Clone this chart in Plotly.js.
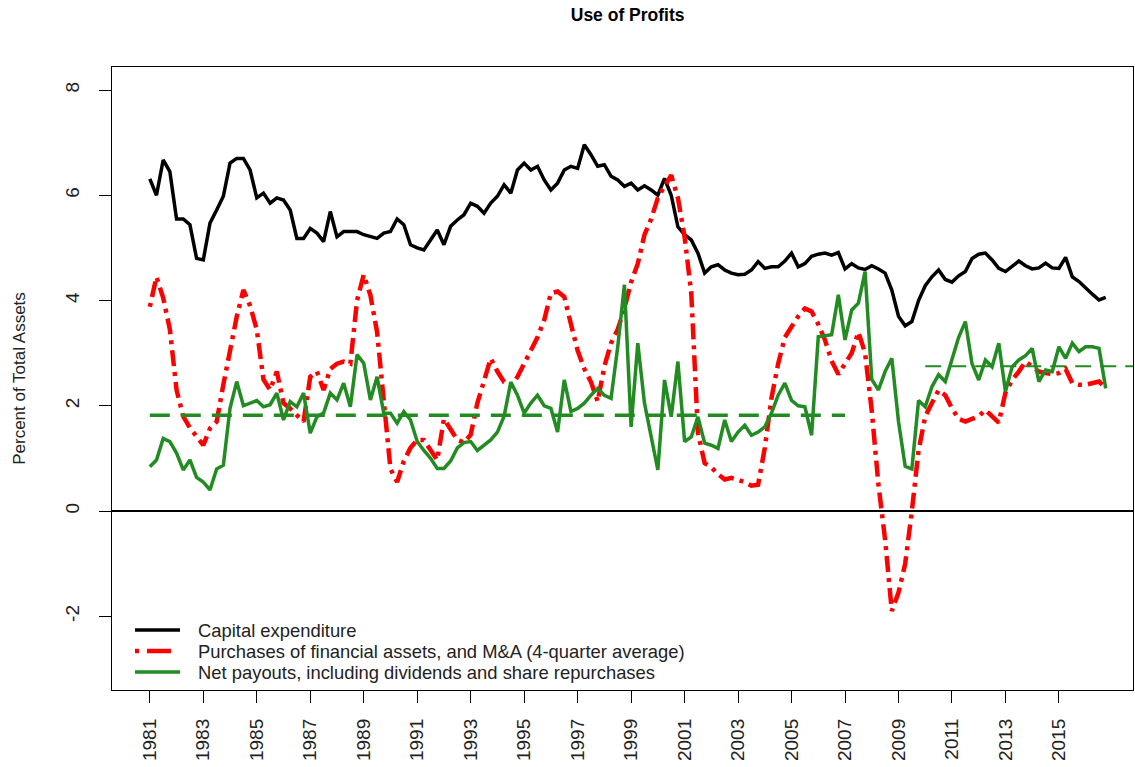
<!DOCTYPE html>
<html>
<head>
<meta charset="utf-8">
<script src="https://cdn.plot.ly/plotly-3.0.1.min.js"></script>
<style>html,body{margin:0;padding:0;background:#fff;}#chart{width:1135px;height:767px;}</style>
</head>
<body>
<div id="chart"></div>
<script>
// Quarterly observations, first quarter = 1981 Q1
const startYear = 1981;

const capitalExpenditure = [
  6.31, 6.00, 6.67, 6.45, 5.55, 5.55, 5.44, 4.80, 4.77, 5.47,
  5.72, 5.98, 6.61, 6.70, 6.70, 6.48, 5.95, 6.04, 5.85, 5.95,
  5.91, 5.72, 5.18, 5.18, 5.37, 5.28, 5.12, 5.69, 5.21, 5.31,
  5.31, 5.31, 5.25, 5.22, 5.18, 5.28, 5.31, 5.55, 5.44, 5.06,
  5.00, 4.96, 5.15, 5.34, 5.06, 5.41, 5.53, 5.63, 5.85, 5.79,
  5.66, 5.85, 5.98, 6.20, 6.04, 6.48, 6.61, 6.48, 6.55, 6.29,
  6.10, 6.23, 6.48, 6.55, 6.51, 6.96, 6.77, 6.55, 6.58, 6.36,
  6.29, 6.17, 6.23, 6.10, 6.18, 6.10, 6.00, 6.32, 6.00, 5.40,
  5.25, 5.15, 4.90, 4.52, 4.64, 4.68, 4.58, 4.52, 4.49, 4.50,
  4.58, 4.74, 4.61, 4.64, 4.64, 4.75, 4.90, 4.64, 4.70, 4.84,
  4.88, 4.90, 4.86, 4.91, 4.60, 4.70, 4.62, 4.59, 4.66, 4.60,
  4.52, 4.20, 3.70, 3.52, 3.60, 4.00, 4.28, 4.45, 4.58, 4.40,
  4.35, 4.47, 4.55, 4.80, 4.88, 4.90, 4.77, 4.61, 4.55, 4.64,
  4.75, 4.66, 4.60, 4.62, 4.71, 4.62, 4.61, 4.82, 4.45, 4.36,
  4.23, 4.12, 4.01, 4.06
];

const financialPurchases = [
  3.88, 4.45, 4.05, 3.45, 2.30, 1.80, 1.58, 1.41, 1.25, 1.57,
  1.70, 2.40, 3.06, 3.69, 4.20, 3.90, 3.45, 2.50, 2.30, 2.65,
  2.05, 1.95, 1.82, 1.70, 2.55, 2.65, 2.30, 2.70, 2.80, 2.84,
  2.80, 4.00, 4.49, 4.10, 3.40, 2.20, 0.80, 0.55, 0.95, 1.20,
  1.35, 1.35, 1.15, 0.97, 1.75, 1.55, 1.35, 1.30, 1.45, 2.05,
  2.45, 2.90, 2.65, 2.45, 2.38, 2.55, 2.80, 3.05, 3.30, 3.63,
  4.14, 4.17, 4.07, 3.55, 3.05, 2.70, 2.45, 2.08, 2.75, 3.19,
  3.45, 3.85, 4.35, 4.70, 5.25, 5.55, 5.95, 6.17, 6.38, 5.95,
  5.21, 4.14, 1.48, 0.91, 0.83, 0.70, 0.60, 0.63, 0.60, 0.55,
  0.48, 0.50, 1.20, 2.15, 2.80, 3.30, 3.50, 3.70, 3.85, 3.79,
  3.55, 3.25, 2.85, 2.60, 2.80, 3.00, 3.40, 3.00, 1.90, 0.50,
  -0.55, -1.90, -1.55, -1.00, 0.00, 1.15, 1.80, 2.05, 2.30, 2.20,
  1.95, 1.75, 1.70, 1.75, 1.80, 1.92, 1.80, 1.68, 2.25, 2.49,
  2.65, 2.84, 2.74, 2.65, 2.62, 2.60, 2.62, 2.70, 2.43, 2.40,
  2.40, 2.42, 2.46, 2.33
];

const netPayouts = [
  0.84, 0.97, 1.38, 1.32, 1.10, 0.78, 0.97, 0.64, 0.55, 0.40,
  0.80, 0.87, 1.95, 2.46, 2.00, 2.05, 2.10, 1.98, 2.02, 2.24,
  1.73, 2.08, 1.98, 2.24, 1.48, 1.79, 1.86, 2.24, 2.11, 2.43,
  1.98, 2.97, 2.81, 2.11, 2.55, 1.86, 1.86, 1.67, 1.89, 1.73,
  1.32, 1.15, 1.00, 0.81, 0.81, 0.95, 1.20, 1.30, 1.32, 1.15,
  1.25, 1.35, 1.50, 1.80, 2.45, 2.20, 1.86, 2.05, 2.20, 2.00,
  1.95, 1.50, 2.49, 1.89, 1.95, 2.05, 2.20, 2.33, 2.20, 2.14,
  3.12, 4.30, 1.60, 3.19, 2.05, 1.40, 0.78, 2.49, 1.79, 2.84,
  1.32, 1.41, 1.79, 1.29, 1.25, 1.19, 1.73, 1.32, 1.50, 1.63,
  1.44, 1.50, 1.60, 1.86, 2.20, 2.43, 2.10, 2.00, 1.98, 1.44,
  3.31, 3.33, 3.35, 4.11, 3.25, 3.82, 3.95, 4.55, 2.50, 2.30,
  2.65, 2.90, 1.70, 0.85, 0.80, 2.10, 1.98, 2.36, 2.59, 2.46,
  2.90, 3.30, 3.60, 2.80, 2.49, 2.87, 2.74, 3.19, 2.27, 2.74,
  2.87, 2.95, 3.09, 2.46, 2.68, 2.65, 3.12, 2.90, 3.19, 3.03,
  3.12, 3.12, 3.09, 2.33
];

// Average net payouts over two periods (dashed reference lines)
const meanLevels = [1.82, 2.75];
const meanFrom   = [1981, 2010];
const meanTo     = [2007, 2018];

const tickYears  = [1981,1983,1985,1987,1989,1991,1993,1995,1997,1999,2001,2003,2005,2007,2009,2011,2013,2015];
const tickLabels = tickYears.map(String);
const yTicks     = [-2, 0, 2, 4, 6, 8];

const seriesNames = [
  'Capital expenditure',
  'Purchases of financial assets, and M&amp;A (4-quarter average)',
  'Net payouts, including dividends and share repurchases'
];
const seriesColors = ['#000000', '#ff0000', '#228b22'];
const seriesDash   = ['solid', '4px,6px,16px,6px', 'solid'];
const seriesWidth  = [3.5, 4.5, 3.5];
const legendDash   = ['solid', '4px,8px,24px,40px', 'solid'];

const dates = capitalExpenditure.map((_, i) => startYear + i / 4);
const seriesValues = [capitalExpenditure, financialPurchases, netPayouts];

const traces = seriesValues.map((vals, k) => ({
  x: dates, y: vals, name: seriesNames[k], type: 'scatter', mode: 'lines', showlegend: false,
  line: {color: seriesColors[k], width: seriesWidth[k], dash: seriesDash[k]}
}));
traces.push(
  {x: [meanFrom[0], meanTo[0]], y: [meanLevels[0], meanLevels[0]], type: 'scatter', mode: 'lines',
   showlegend: false, hoverinfo: 'skip', line: {color: '#228b22', width: 3.5, dash: '20px,11px'}},
  {x: [meanFrom[1], meanTo[1]], y: [meanLevels[1], meanLevels[1]], type: 'scatter', mode: 'lines',
   showlegend: false, hoverinfo: 'skip', line: {color: '#228b22', width: 2, dash: '16px,9px'}}
);

// plot-area geometry in pixels, for placing the hand-drawn legend
const M = {l: 112, r: 2, t: 67, b: 77};
const W = 1135, H = 767;
const PW = W - M.l - M.r, PH = H - M.t - M.b;
const px2x = p => (p - M.l) / PW;
const py2y = p => (H - M.b - p) / PH;
const legendRows = [630, 651, 672];

const shapes = [];
const annotations = [];
legendRows.forEach((row, k) => {
  shapes.push({type: 'line', xref: 'paper', yref: 'paper', x0: px2x(135), x1: px2x(180),
               y0: py2y(row), y1: py2y(row),
               line: {color: seriesColors[k], width: seriesWidth[k], dash: legendDash[k]}});
  annotations.push({xref: 'paper', yref: 'paper', x: px2x(196), y: py2y(row), xanchor: 'left', yanchor: 'middle',
                    text: seriesNames[k], showarrow: false, font: {size: 18.4, color: '#222'}});
});

const baseFont = 'Liberation Sans, Arial, Helvetica, sans-serif';

const layout = {
  width: W, height: H,
  margin: {l: M.l, r: M.r, t: M.t, b: M.b, pad: 0},
  paper_bgcolor: '#ffffff', plot_bgcolor: '#ffffff',
  font: {family: baseFont, color: '#000000'},
  title: {text: '<b>Use of Profits</b>', font: {size: 17.5, family: baseFont, color: '#000'},
          x: 0.553, xref: 'container', xanchor: 'center', y: 0.980, yref: 'container', yanchor: 'middle'},
  showlegend: false,
  shapes: shapes,
  annotations: annotations,
  xaxis: {range: [1979.586, 2017.77], tickmode: 'array', tickvals: tickYears, ticktext: tickLabels,
          tickangle: -90, ticks: 'outside', ticklen: 12, tickwidth: 1, tickcolor: '#000',
          tickfont: {size: 19, color: '#222'}, ticklabelstandoff: 8,
          showline: true, mirror: true, linecolor: '#000', linewidth: 1.2,
          showgrid: false, zeroline: false, fixedrange: true},
  yaxis: {range: [-3.401, 8.437], tickmode: 'array', tickvals: yTicks, ticktext: yTicks.map(String),
          tickangle: -90, ticks: 'outside', ticklen: 12, tickwidth: 1, tickcolor: '#000',
          tickfont: {size: 19, color: '#222'}, ticklabelstandoff: 12,
          showline: true, mirror: true, linecolor: '#000', linewidth: 1.2,
          showgrid: false, zeroline: true, zerolinecolor: '#000', zerolinewidth: 1.5, fixedrange: true,
          title: {text: 'Percent of Total Assets', font: {size: 17, color: '#222'}, standoff: 32}}
};

Plotly.newPlot('chart', traces, layout, {displayModeBar: false, staticPlot: true});
</script>
</body>
</html>
